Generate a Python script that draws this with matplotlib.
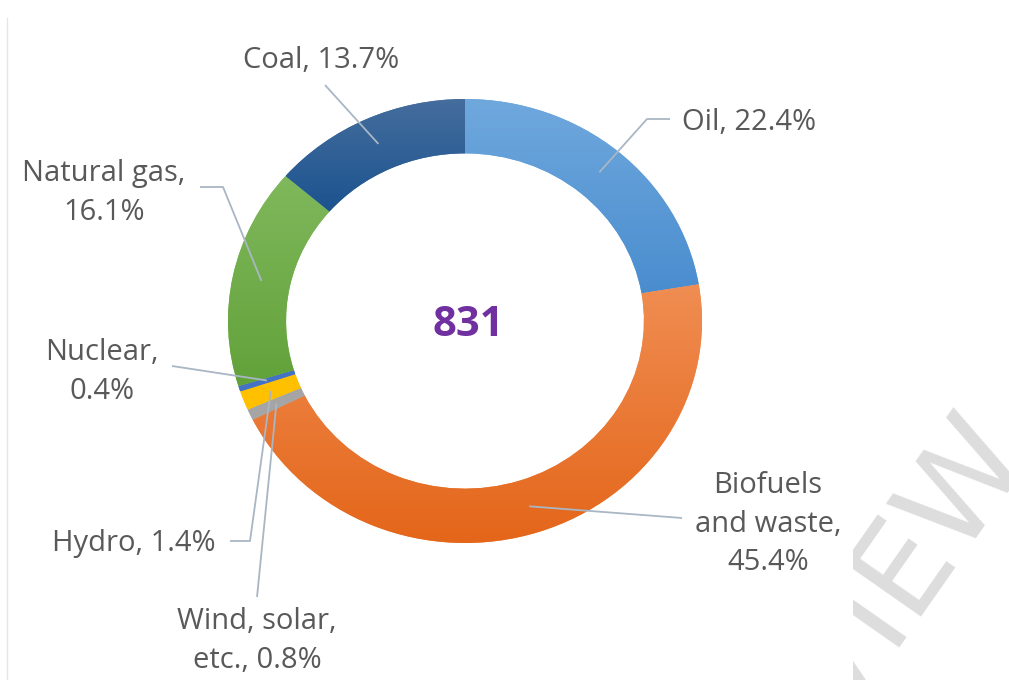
import numpy as np
import matplotlib
matplotlib.use("Agg")
import matplotlib.pyplot as plt
from matplotlib.colors import to_rgb
from matplotlib.transforms import Bbox, TransformedBbox

# ---- data ----
sources = ["Oil", "Biofuels and waste", "Wind, solar, etc.", "Hydro", "Nuclear", "Natural gas", "Coal"]
shares = [22.4, 45.4, 0.8, 1.4, 0.4, 16.1, 13.7]
label_texts = ["Oil, 22.4%", "Biofuels\nand waste,\n45.4%", "Wind, solar,\netc., 0.8%",
               "Hydro, 1.4%", "Nuclear,\n0.4%", "Natural gas,\n16.1%", "Coal, 13.7%"]
total_value = "831"

# ---- styles ----
top_colors = ["#6FA8DD", "#F08D52", "#A5A5A5", "#FFC000", "#4472C4", "#80B85C", "#456D9D"]
bot_colors = ["#4A8DCF", "#E4661A", "#A5A5A5", "#FFC000", "#4472C4", "#62A23A", "#1B538F"]
text_color = "#595959"
leader_color = "#A9B6C4"
FONT = "Open Sans"

W, H = 1009, 680
fig = plt.figure(figsize=(W / 100, H / 100), dpi=100)
ax = fig.add_axes([0, 0, 1, 1])

CX, CY, RX, RY = 465, 321, 237, 222


def P(px, py):
    return ((px - CX) / RX, (CY - py) / RY)


wedges, _ = ax.pie(shares, startangle=90, counterclock=False, radius=1.0,
                   colors=top_colors,
                   wedgeprops=dict(width=0.245, linewidth=0))
ax.set_aspect("auto")
ax.axis("off")

# gradient fill for each wedge
for w, c1, c2 in zip(wedges, top_colors, bot_colors):
    ext = w.get_path().get_extents()
    a, b = np.array(to_rgb(c1)), np.array(to_rgb(c2))
    t = np.linspace(0, 1, 64)[:, None]
    grad = (a[None, :] * (1 - t) + b[None, :] * t)[:, None, :]
    im = ax.imshow(grad, extent=[ext.x0, ext.x1, ext.y0, ext.y1], origin="upper",
                   aspect="auto", interpolation="bilinear", zorder=2)
    im.set_clip_path(w)
ax.set_xlim(P(0, 0)[0], P(W, 0)[0])
ax.set_ylim(P(0, H)[1], P(0, 0)[1])

# anchor points at ring middle, mid angle
r_mid = (1 + 0.755) / 2
anchors = []
for w in wedges:
    th = np.deg2rad((w.theta1 + w.theta2) / 2)
    anchors.append((r_mid * np.cos(th), r_mid * np.sin(th)))

# leader paths (pixel layout points after anchor) and label positions
leader_pts = [
    [(647, 119), (670, 119)],
    [(682, 518)],
    [(257, 597)],
    [(250, 541), (230, 541)],
    [(172, 366)],
    [(223, 187), (200, 187)],
    [(325, 85)],
]
label_pos = [(682, 122, "left"), (768, 524, "center"), (257, 641, "center"),
             (216, 543, "right"), (102, 372, "center"), (104, 193, "center"),
             (321, 60, "center")]

for anc, pts, txt, (lx, ly, ha) in zip(anchors, leader_pts, label_texts, label_pos):
    xs = [anc[0]] + [P(*p)[0] for p in pts]
    ys = [anc[1]] + [P(*p)[1] for p in pts]
    ax.plot(xs, ys, color=leader_color, lw=1.3, zorder=3, solid_capstyle="butt")
    x, y = P(lx, ly)
    ax.text(x, y, txt, ha=ha, va="center", fontsize=21, color=text_color,
            family=FONT, linespacing=1.45, zorder=4)

# center total
ax.text(*P(468, 326), total_value, ha="center", va="center", fontsize=30,
        fontweight="bold", color="#7030A0", family=FONT, zorder=4)

# faint left border
ax.plot([P(7, 0)[0]] * 2, [P(0, 18)[1], P(0, H)[1]], color="#E6E6E6", lw=1, zorder=1)

# watermark (clipped at its left edge like the reference)
wm = fig.text(1028 / W, 1 - 446 / H, "PREVIEW", rotation=55, rotation_mode="anchor",
              ha="right", va="baseline", fontsize=92, color="#DDDDDD",
              family="DejaVu Sans", zorder=0)
wm.set_clip_box(TransformedBbox(Bbox([[853 / W, 0], [1, 1]]), fig.transFigure))

fig.savefig("out.png", dpi=100)
